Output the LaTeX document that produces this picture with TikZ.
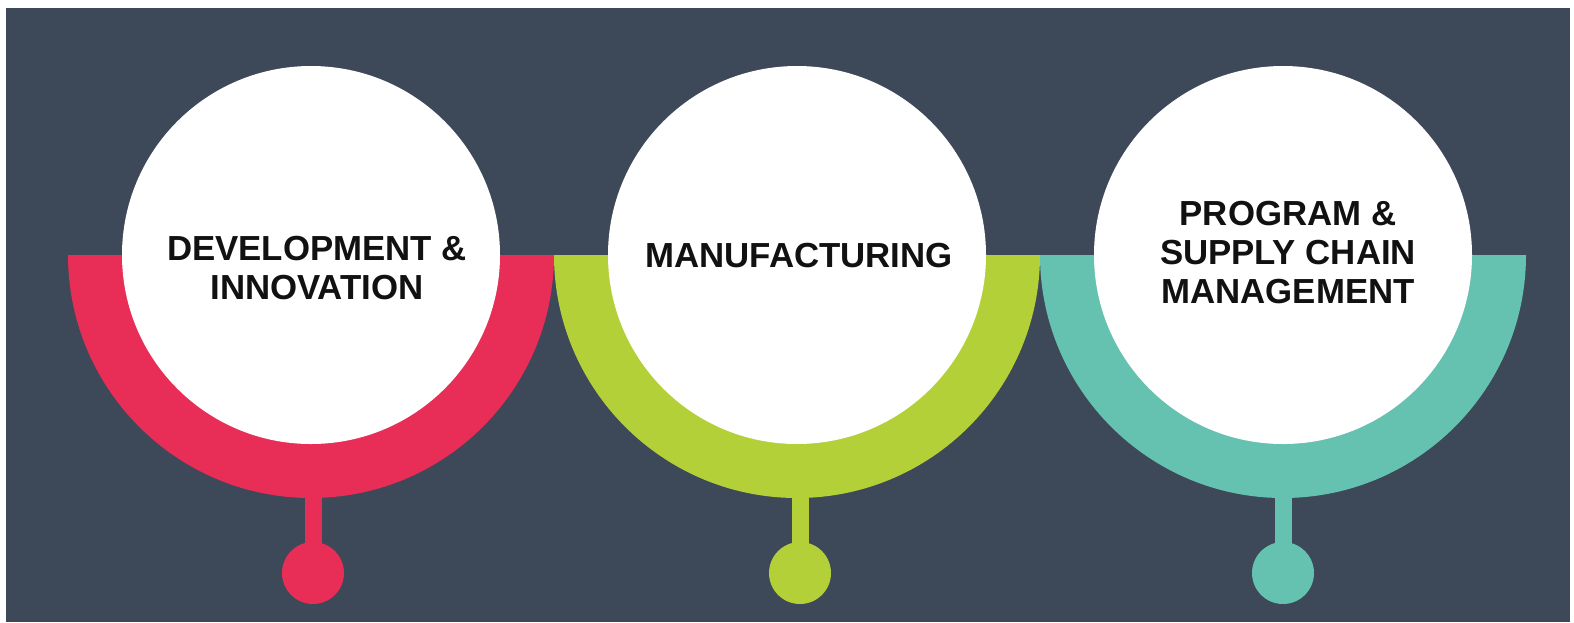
\documentclass[tikz,border=0pt]{standalone}
\usepackage{fontspec}
\setmainfont{Liberation Sans}
\definecolor{bg}{HTML}{3D4858}
\definecolor{cpink}{HTML}{E82D57}
\definecolor{cgreen}{HTML}{B4D038}
\definecolor{cteal}{HTML}{66C2B0}
\definecolor{ink}{HTML}{111111}
\begin{document}
\begin{tikzpicture}[x=0.5pt,y=-0.5pt,
  disc/.style={circle,fill=white,draw=none,minimum size=189pt,inner sep=0pt},
  ball/.style={circle,draw=none,minimum size=31pt,inner sep=0pt},
  label/.style={text=ink,align=center,inner sep=0pt,font=\bfseries\fontsize{17.4}{19.5}\selectfont},
  stem/.style={line width=8.5pt}]
\useasboundingbox (0,0) rectangle (1574,622);
\fill[white] (0,0) rectangle (1574,622);
\fill[bg] (6,8) rectangle (1570,622);
% half rings
\fill[cpink] (68,255) arc[start angle=180,end angle=0,radius=243] -- cycle;
\fill[cgreen] (554,255) arc[start angle=180,end angle=0,radius=243] -- cycle;
\fill[cteal] (1040,255) arc[start angle=180,end angle=0,radius=243] -- cycle;
% white discs
\node[disc] (c1) at (311,255) {};
\node[disc] (c2) at (797,255) {};
\node[disc] (c3) at (1283,255) {};
% stems and balls
\coordinate (s1) at (313,490);
\coordinate (s2) at (800,490);
\coordinate (s3) at (1283,490);
\node[ball,fill=cpink] (b1) at (313,573) {};
\node[ball,fill=cgreen] (b2) at (800,573) {};
\node[ball,fill=cteal] (b3) at (1283,573) {};
\draw[stem,cpink] (s1) -- (b1.center);
\draw[stem,cgreen] (s2) -- (b2.center);
\draw[stem,cteal] (s3) -- (b3.center);
% labels
\node[label] (t1) at (317,268) {DEVELOPMENT \&\\INNOVATION};
\node[label] (t2) at (799,256) {MANUFACTURING};
\node[label] (t3) at (1288,253) {PROGRAM \&\\SUPPLY CHAIN\\MANAGEMENT};
\end{tikzpicture}
\end{document}
